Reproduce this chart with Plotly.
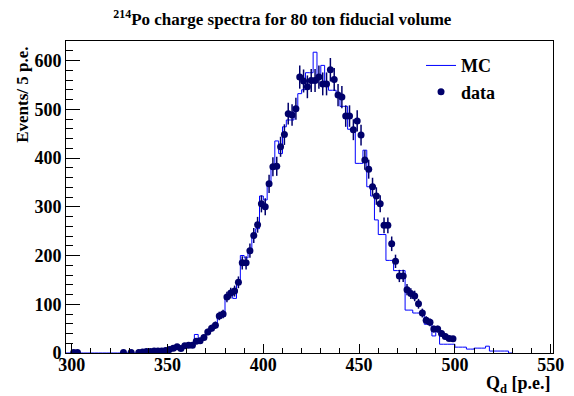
import numpy as np
import plotly.graph_objects as go

# data points (bin centre, counts), 2 p.e. bins
data_x = [301, 303, 327, 331, 335, 337, 339, 341, 343, 345, 347, 349, 351, 353, 355,
          357, 359, 361, 363, 365, 367, 369, 371, 373, 375, 377, 379, 381, 383, 385,
          387, 389, 391, 393, 395, 397, 399, 401, 403, 405, 407, 409, 411, 413, 415,
          417, 419, 421, 423, 425, 427, 429, 431, 433, 435, 437, 439, 441, 443, 445,
          447, 449, 451, 453, 455, 457, 459, 461, 463, 465, 467, 469, 471, 473, 475,
          477, 479, 481, 483, 485, 487, 489, 491, 493, 495, 497, 499]
data_y = [1, 1, 1, 1, 1, 2, 3, 3, 4, 4, 4, 5, 7, 10, 13,
          9, 15, 16, 16, 24, 25, 32, 43, 51, 57, 76, 80, 115, 123, 127,
          145, 185, 185, 210, 241, 263, 306, 300, 347, 382, 383, 423, 448, 491, 488,
          501, 566, 558, 546, 559, 559, 566, 552, 552, 581, 561, 529, 525, 486, 486,
          458, 476, 447, 396, 377, 341, 322, 306, 262, 262, 224, 188, 158, 158, 130,
          122, 117, 101, 82, 67, 63, 49, 49, 40, 34, 30, 29]

# MC histogram, 2 p.e. bins, centres 297 ... 529
mc_first_centre = 297
mc_counts = [0, 0, 3, 1, 0, 0, 0, 0, 0, 0, 0, 0, 0, 0, 0,
             1, 0, 1, 0, 1, 2, 2, 2, 3, 3, 3, 4, 6, 9, 12,
             10, 14, 18, 16, 38, 30, 32, 40, 48, 55, 72, 75, 118, 125, 112,
             145, 200, 195, 205, 243, 255, 322, 314, 345, 380, 435, 409, 464, 478, 478,
             500, 532, 540, 575, 575, 617, 570, 590, 552, 539, 539, 528, 506, 506, 459,
             459, 389, 389, 416, 341, 322, 273, 243, 243, 190, 190, 169, 169, 169, 88,
             88, 82, 82, 82, 59, 59, 35, 45, 18, 18, 18, 18, 12, 12, 12,
             8, 8, 10, 10, 10, 14, 4, 4, 4, 4, 4, 0]

bin_w = 2
mc_centres = mc_first_centre + bin_w * np.arange(len(mc_counts))
mc_edges = list(mc_centres - bin_w / 2) + [mc_centres[-1] + bin_w / 2]
mc_steps = mc_counts + [mc_counts[-1]]

serif = "Liberation Serif"
navy = "#00006b"

fig = go.Figure()

fig.add_trace(go.Scatter(
    x=mc_edges, y=mc_steps, mode="lines", line_shape="hv",
    line=dict(color="#0000ff", width=1), name="<b>MC</b>", legendgroup="mc"))

fig.add_trace(go.Scatter(
    x=data_x, y=data_y, mode="markers", name="<b>data</b>", legendgroup="data",
    marker=dict(color=navy, size=7),
    error_y=dict(type="data", array=np.sqrt(data_y), width=0, thickness=1.5, color=navy)))

# the page body adds an 8px offset, so the margins are shifted to compensate
fig.update_layout(
    width=574, height=396,
    margin=dict(l=58, r=29, t=33, b=51, autoexpand=False),
    paper_bgcolor="white", plot_bgcolor="white",
    font=dict(family=serif, size=15, color="black"),
    title=dict(text="<b><sup>214</sup>Po charge spectra for 80 ton fiducial volume</b>",
               xref="container", yref="container",
               x=0.478, xanchor="center", y=0.972, yanchor="middle",
               font=dict(size=17)),
    legend=dict(x=0.729, y=0.98, xanchor="left", yanchor="top",
                bgcolor="rgba(255,255,255,0)", traceorder="grouped",
                tracegroupgap=0, font=dict(size=18)),
    showlegend=True,
)

fig.update_xaxes(
    range=[297, 551.2], tick0=300, dtick=50, ticks="inside", ticklen=9,
    tickcolor="black", showline=True, linecolor="black", linewidth=1, mirror=True,
    showgrid=False, zeroline=False, automargin=False, ticklabelstandoff=-5,
    tickfont=dict(family=serif, size=18),
    tickprefix="<b>", ticksuffix="</b>",
    minor=dict(dtick=10, ticks="inside", ticklen=5, tickcolor="black", showgrid=False))

fig.update_yaxes(
    range=[0, 640], tick0=0, dtick=100, ticks="inside", ticklen=14,
    tickcolor="black", showline=True, linecolor="black", linewidth=1, mirror=True,
    showgrid=False, zeroline=False, automargin=False,
    tickfont=dict(family=serif, size=18),
    tickprefix="<b>", ticksuffix="</b>",
    minor=dict(dtick=20, ticks="inside", ticklen=7, tickcolor="black", showgrid=False))

fig.add_annotation(text="<b>Events/ 5 p.e.</b>", textangle=-90,
                   xref="paper", yref="paper", x=-0.09, y=0.828,
                   xanchor="center", yanchor="middle", showarrow=False,
                   font=dict(family=serif, size=17))
fig.add_annotation(text="<b>Q<sub>d</sub> [p.e.]</b>",
                   xref="paper", yref="paper", x=1.0, y=-0.1,
                   xanchor="right", yanchor="middle", showarrow=False,
                   font=dict(family=serif, size=18))

fig.write_html("out.html")
